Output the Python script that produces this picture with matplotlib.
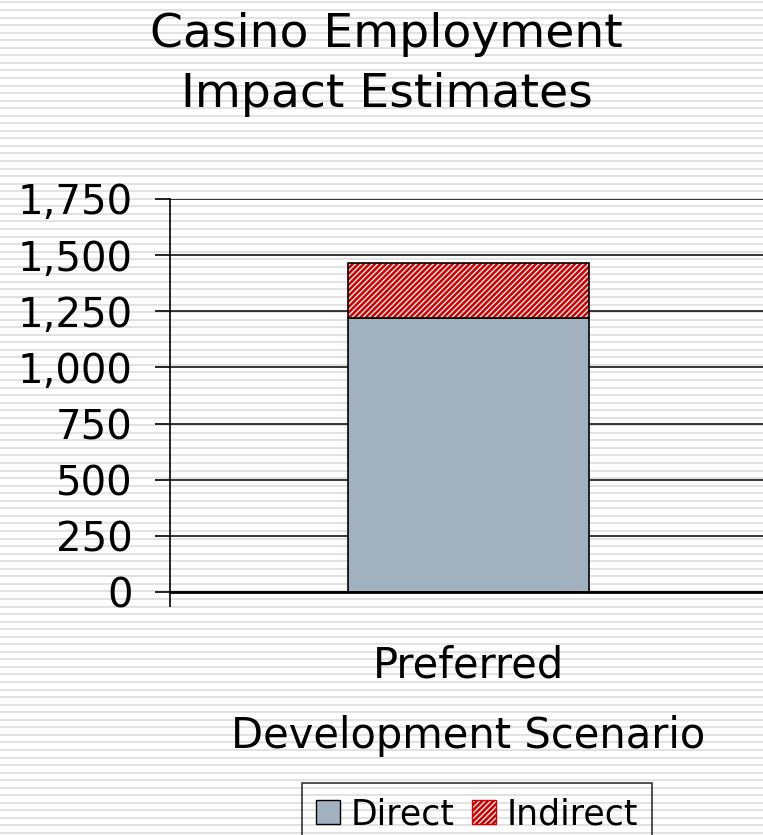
import numpy as np
import matplotlib
matplotlib.use("Agg")
import matplotlib.pyplot as plt
from matplotlib.patches import Patch

# donnees du graphique
categories = ["Preferred\nDevelopment Scenario"]
direct = [1220]
indirect = [245]
y_ticks = [0, 250, 500, 750, 1000, 1250, 1500, 1750]
titre = ["Casino Employment", "Impact Estimates"]

plt.rcParams["font.family"] = ["DejaVu Sans"]
plt.rcParams["hatch.linewidth"] = 1.9

fig = plt.figure(figsize=(7.63, 8.35), dpi=100)

# fond raye (lignes horizontales grises)
bg = fig.add_axes([0, 0, 1, 1], zorder=-10)
bg.set_xlim(0, 1)
bg.set_ylim(0, 835)
bg.hlines(np.arange(2, 835, 7.55), 0, 1, color="#e2e2e2", linewidth=1.4)
bg.axis("off")

ax = fig.add_axes([0.2228, 0.291, 0.782, 0.4707])
ax.patch.set_alpha(0)

x = np.arange(len(categories))
w = 0.403

ax.bar(x, direct, width=w, color="#a2b1c0", edgecolor="black", linewidth=1.2, zorder=3)
ax.bar(x, indirect, width=w, bottom=direct, color="white", edgecolor="#d00000",
       hatch="//////", linewidth=0, zorder=3)
ax.bar(x, indirect, width=w, bottom=direct, fill=False, edgecolor="black",
       linewidth=1.2, zorder=4)

ax.set_xlim(-0.5, 0.5)
ax.set_ylim(0, 1750)
ax.set_yticks(y_ticks)
ax.set_yticklabels([f"{v:,}" for v in y_ticks], fontsize=29)
ax.yaxis.grid(True, color="black", linewidth=1.1, zorder=0)

ax.set_xticks(x)
ax.set_xticklabels(categories, fontsize=30, linespacing=1.85)
ax.set_xticks([-0.5, 0.5], minor=True)
ax.tick_params(axis="x", which="major", length=0, pad=38)
ax.tick_params(axis="x", which="minor", length=11, width=1.2, direction="out")
ax.tick_params(axis="y", length=11, width=1.2, direction="out", pad=16)

for s in ["top", "right"]:
    ax.spines[s].set_visible(False)
ax.spines["left"].set_linewidth(1.2)
ax.spines["bottom"].set_linewidth(2)
ax.spines["bottom"].set_zorder(5)

# titre sur deux lignes
fig.text(0.507, 1 - 47 / 835, titre[0], ha="center", va="baseline", fontsize=34)
fig.text(0.507, 1 - 107 / 835, titre[1], ha="center", va="baseline", fontsize=34)

handles = [Patch(facecolor="#a2b1c0", edgecolor="black", linewidth=1),
           Patch(facecolor="white", edgecolor="#d00000", hatch="//////", linewidth=1)]
leg = fig.legend(handles, ["Direct", "Indirect"], loc="lower center",
                 bbox_to_anchor=(0.625, -0.012), ncol=2, fontsize=25, frameon=True,
                 fancybox=False, edgecolor="black", handlelength=0.7, handleheight=0.7,
                 handletextpad=0.3, columnspacing=0.5, borderpad=0.4, borderaxespad=0)
leg.get_frame().set_linewidth(1.2)
leg.get_frame().set_facecolor("none")

fig.savefig("out.png", dpi=100)
